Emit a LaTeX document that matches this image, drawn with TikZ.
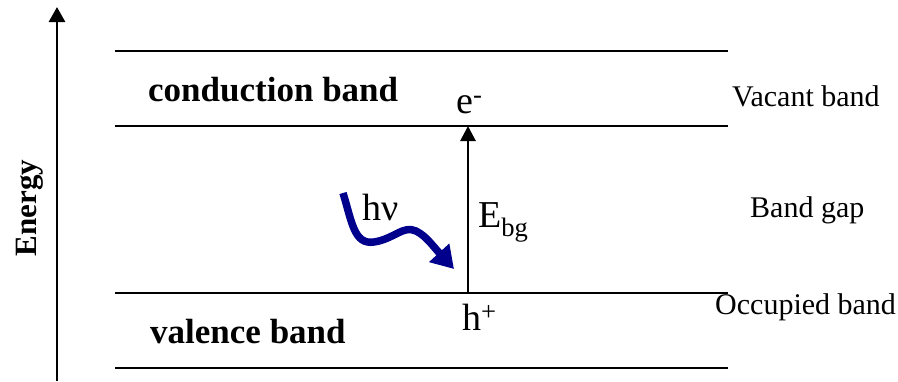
\documentclass[tikz,border=0pt]{standalone}
\usepackage{fontspec}
\setmainfont{Liberation Serif}
\usetikzlibrary{arrows.meta}
\definecolor{photon}{RGB}{0,0,140}
\tikzset{
  band/.style={line width=1.6pt},
  lbl/.style={inner sep=0pt, anchor=base, font=\fontsize{30}{34}\selectfont},
  bold/.style={inner sep=0pt, anchor=base, font=\fontsize{35}{38}\selectfont\bfseries},
  big/.style={inner sep=0pt, anchor=base, font=\fontsize{38}{42}\selectfont},
}
\begin{document}
\begin{tikzpicture}[x=1pt,y=-1pt]
\useasboundingbox (0,0) rectangle (898,381);
% band lines
\coordinate (l1a) at (115,51); \coordinate (l1b) at (728,51);
\coordinate (l2a) at (115,126); \coordinate (l2b) at (728,126);
\coordinate (l3a) at (115,293); \coordinate (l3b) at (728,293);
\coordinate (l4a) at (115,368); \coordinate (l4b) at (728,368);
\draw[band] (l1a) -- (l1b);
\draw[band] (l2a) -- (l2b);
\draw[band] (l3a) -- (l3b);
\draw[band] (l4a) -- (l4b);
% energy axis
\coordinate (ea) at (57,381);
\coordinate (eb) at (57,7);
\draw[line width=2.8pt,-{Triangle[width=16pt,length=15pt]}] (ea) -- (eb);
\node[inner sep=0pt, rotate=90, font=\fontsize{31}{34}\selectfont\bfseries] (energy) at (30,208) {Energy};
% labels
\node[bold, anchor=base west] (cb) at (148,101) {conduction band};
\node[bold, anchor=base west] (vb) at (150,343) {valence band};
\node[lbl, anchor=base west] (vac) at (732,106) {Vacant band};
\node[lbl, anchor=base west] (gap) at (750,217) {Band gap};
\node[lbl, anchor=base west] (occ) at (715,314) {Occupied band};
% carriers
\node[big, anchor=base west] (el) at (456,113) {e\textsuperscript{-}};
\node[big, anchor=base west] (ho) at (462,330) {h\textsuperscript{+}};
\node[big, anchor=base west] (ebg) at (478,227) {E\textsubscript{bg}};
\node[big, anchor=base west] (hnu) at (362,220) {hν};
% excitation arrow
\coordinate (va) at (468,293);
\coordinate (vt) at (468,126);
\draw[line width=2.8pt,-{Triangle[width=15pt,length=15pt]}] (va) -- (vt);
% photon
\coordinate (p0) at (343,193);
\coordinate (p1) at (374,242);
\coordinate (p2) at (416,231);
\coordinate (pt) at (454,269);
\draw[photon, line width=7.5pt, -{Triangle[width=26pt,length=22pt]}]
  (p0) .. controls (352,222) and (354,245) .. (p1)
  .. controls (394,239) and (403,225) .. (p2)
  .. controls (426,236) and (432,245) .. (pt);
\end{tikzpicture}
\end{document}
